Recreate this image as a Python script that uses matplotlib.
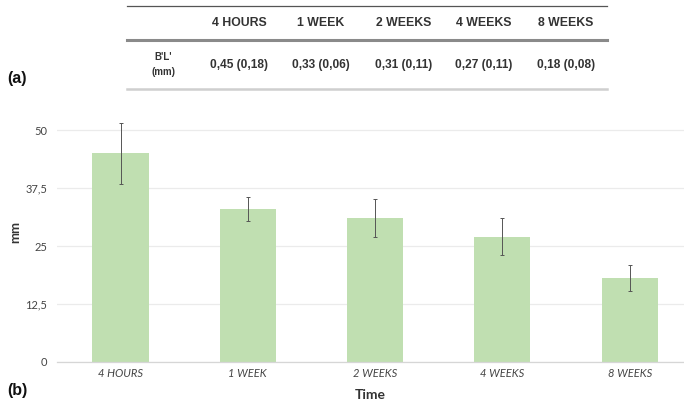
import matplotlib
matplotlib.use("Agg")
import matplotlib.pyplot as plt
from matplotlib.lines import Line2D

# bone loss per time point (chart in tenths of mm, table in mm)
times = ["4 HOURS", "1 WEEK", "2 WEEKS", "4 WEEKS", "8 WEEKS"]
tick_labels = ["4 HOURS", "1 WEEK", "2 WEEKS", "4 WEEKS", "8 WEEKS"]
means = [45, 33, 31, 27, 18]
errors = [6.6, 2.6, 4.1, 4.0, 2.8]
table_values = ["0,45 (0,18)", "0,33 (0,06)", "0,31 (0,11)", "0,27 (0,11)", "0,18 (0,08)"]
yticks = [0, 12.5, 25, 37.5, 50]
ytick_labels = ["0", "12,5", "25", "37,5", "50"]

W, H = 684, 404
fig = plt.figure(figsize=(W / 100, H / 100), dpi=100)

def fx(px):
    return px / W

def fy(py):
    return 1 - py / H

# ---- (a) table ----
tfont = dict(family=["Liberation Sans", "DejaVu Sans"], color="#333333")
fig.add_artist(Line2D([fx(127), fx(607)], [fy(6), fy(6)], color="#555555", lw=0.9))
fig.add_artist(Line2D([fx(127), fx(607)], [fy(40), fy(40)], color="#8a8a8a", lw=2.2))
fig.add_artist(Line2D([fx(127), fx(607)], [fy(89), fy(89)], color="#cfcfcf", lw=1.8))
col_x = [239, 321, 404, 484, 566]
for x, name, val in zip(col_x, times, table_values):
    fig.text(fx(x), fy(23), name, ha="center", va="center", fontsize=8.8,
             fontweight="bold", **tfont)
    fig.text(fx(x), fy(65), val, ha="center", va="center", fontsize=8.6,
             fontweight="bold", **tfont)
fig.text(fx(163), fy(57), "B'L'", ha="center", va="center", fontsize=7,
         fontweight="bold", **tfont)
fig.text(fx(163), fy(72), "(mm)", ha="center", va="center", fontsize=7,
         fontweight="bold", **tfont)
fig.text(fx(7), fy(78), "(a)", ha="left", va="center", fontsize=11.5,
         fontweight="bold", family=["Liberation Sans", "DejaVu Sans"], color="#111111")

# ---- (b) bar chart ----
y0, y50 = 362, 130
ppu = (y0 - y50) / 50
ytop = 55
ax_left, ax_right = 57, 684
ax = fig.add_axes([fx(ax_left), fy(y0), fx(ax_right - ax_left), (ytop * ppu) / H])

step = 127.3
x = list(range(len(means)))
ax.bar(x, means, width=0.44, color="#c0dfb1", zorder=2)
ax.errorbar(x, means, yerr=errors, fmt="none", ecolor="#555555", elinewidth=0.7,
            capsize=1.2, capthick=0.7, zorder=3)

ax.set_xlim(-(120.5 - ax_left) / step, (ax_right - 120.5) / step)
ax.set_ylim(0, ytop)
ax.set_yticks(yticks)
ax.set_yticklabels(ytick_labels, family=["Lato", "DejaVu Sans"], fontsize=8, color="#444444")
ax.set_xticks(x)
ax.set_xticklabels(tick_labels, family=["Lato", "DejaVu Sans"], style="italic",
                   fontsize=8, color="#444444")
ax.tick_params(length=0, pad=4)
ax.tick_params(axis="y", pad=7)
ax.grid(axis="y", color="#ebebeb", lw=0.9, zorder=0)
for s in ["top", "right", "left"]:
    ax.spines[s].set_visible(False)
ax.spines["bottom"].set_color("#d6d6d6")
ax.spines["bottom"].set_linewidth(0.9)

fig.text(fx(15), fy(232), "mm", rotation=90, ha="center", va="center", fontsize=9.5,
         fontweight="bold", family=["Lato", "DejaVu Sans"], color="#333333")
fig.text(fx(370), fy(395), "Time", ha="center", va="center", fontsize=10,
         fontweight="bold", family=["Lato", "DejaVu Sans"], color="#333333")
fig.text(fx(7), fy(390), "(b)", ha="left", va="center", fontsize=11.5,
         fontweight="bold", family=["Liberation Sans", "DejaVu Sans"], color="#111111")

fig.savefig("out.png", dpi=100)
